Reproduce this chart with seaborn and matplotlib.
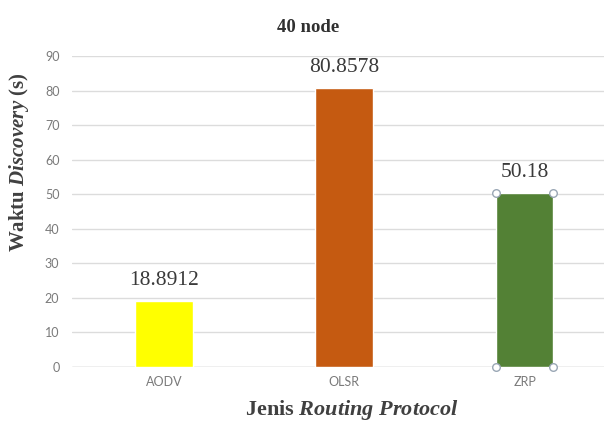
import matplotlib
matplotlib.use("Agg")
import matplotlib.pyplot as plt
import seaborn as sns
import pandas as pd

# Discovery time per routing protocol, 40-node scenario
protocols = ["AODV", "OLSR", "ZRP"]
discovery_time = [18.8912, 80.8578, 50.18]
bar_colors = ["#FFFF00", "#C55A11", "#538135"]
y_ticks = [0, 10, 20, 30, 40, 50, 60, 70, 80, 90]

sns.set_theme(style="white")
plt.rcParams["mathtext.fontset"] = "custom"
plt.rcParams["mathtext.it"] = "Liberation Serif:italic:bold"
plt.rcParams["mathtext.rm"] = "Liberation Serif:bold"

df = pd.DataFrame({"protocol": protocols, "time": discovery_time})

fig = plt.figure(figsize=(6.04, 4.25), dpi=100)
ax = fig.add_axes([0.119, 0.1376, 0.881, 0.7304])

sns.barplot(data=df, x="protocol", y="time", hue="protocol",
            palette=dict(zip(protocols, bar_colors)), width=0.32,
            legend=False, ax=ax, saturation=1, zorder=2)

ax.set_ylim(0, 90)
ax.set_xlim(-0.51, 2.44)
ax.set_yticks(y_ticks)
ax.yaxis.grid(True, color="#dcdcdc", linewidth=1.0, zorder=0)
ax.set_axisbelow(True)
for s in ["top", "right", "left", "bottom"]:
    ax.spines[s].set_visible(False)
ax.axhline(0, color="#cfcfcf", linewidth=1.0, zorder=1)
ax.tick_params(axis="y", length=0, labelsize=9, labelcolor="#7a7a7a", pad=9)
ax.tick_params(axis="x", length=0, labelsize=9, labelcolor="#7a7a7a", pad=7)
for lab in ax.get_xticklabels() + ax.get_yticklabels():
    lab.set_family("Lato")
ax.set_xlabel("")
ax.set_ylabel("")

# value labels above each bar
for container in ax.containers:
    ax.bar_label(container, labels=[f"{v:g}" for v in container.datavalues],
                 padding=8, fontsize=15.5, color="#3a3a3a",
                 family="Liberation Serif")

# selection handles on the ZRP bar corners
zrp_bar = ax.patches[protocols.index("ZRP")]
x0, y0 = zrp_bar.get_x(), zrp_bar.get_y()
x1, y1 = x0 + zrp_bar.get_width(), y0 + zrp_bar.get_height()
ax.scatter([x0, x1, x0, x1], [y0, y0, y1, y1], s=30, facecolor="white",
           edgecolor="#9aa7b5", linewidth=1.0, zorder=5, clip_on=False)

fig.text(0.510, 0.936, "40 node", ha="center", va="center", fontsize=13.5,
         fontweight="bold", family="Liberation Serif", color="#303030")
fig.text(0.583, 0.036, r"Jenis $\mathit{Routing\ Protocol}$", ha="center",
         va="center", fontsize=16, fontweight="bold",
         family="Liberation Serif", color="#404040")
fig.text(0.032, 0.619, r"Waktu $\mathit{Discovery}$ (s)", ha="center",
         va="center", rotation=90, fontsize=15, fontweight="bold",
         family="Liberation Serif", color="#404040")

fig.savefig("out.png", dpi=100)
